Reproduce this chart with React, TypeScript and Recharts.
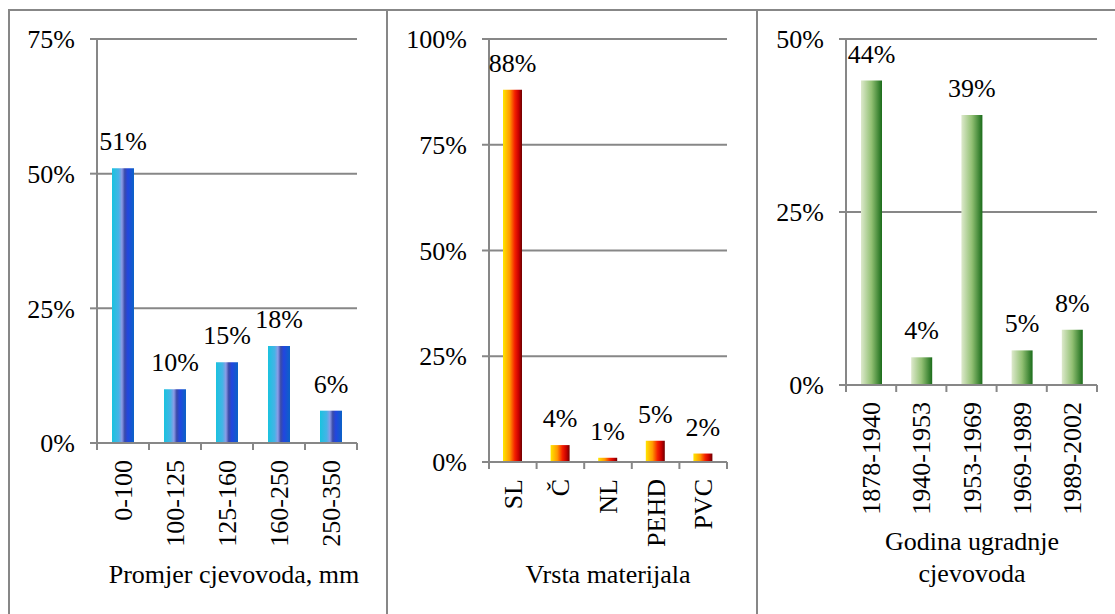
import React from "react";
import { Bar, BarChart, CartesianGrid, LabelList, XAxis, YAxis } from "recharts";

const diameterCats = ["0-100", "100-125", "125-160", "160-250", "250-350"];
const diameterShare = [51, 10, 15, 18, 6];
const diameterTicks = [0, 25, 50, 75];

const materialCats = ["SL", "Č", "NL", "PEHD", "PVC"];
const materialShare = [88, 4, 1, 5, 2];
const materialTicks = [0, 25, 50, 75, 100];

const yearCats = ["1878-1940", "1940-1953", "1953-1969", "1969-1989", "1989-2002"];
const yearShare = [44, 4, 39, 5, 8];
const yearTicks = [0, 25, 50];

const FONT = "Liberation Serif, Tinos, Times New Roman, Times, DejaVu Serif, serif";
const GRAY = "#878787";
const TICK = 7;
const TICK_GAP = 10;

const toRows = (cats: string[], vals: number[]) => cats.map((name, i) => ({ name, value: vals[i] }));
const pct = (v: number) => `${v}%`;

function CatTick(props: any) {
  const { x, y, payload, index, visibleTicksCount } = props;
  const half = payload?.offset ?? 0;
  const axisY = y - TICK - TICK_GAP;
  const last = index === visibleTicksCount - 1;
  return (
    <g>
      <line x1={x - half} x2={x - half} y1={axisY} y2={axisY + TICK} stroke={GRAY} strokeWidth={2} />
      {last && <line x1={x + half} x2={x + half} y1={axisY} y2={axisY + TICK} stroke={GRAY} strokeWidth={2} />}
      <text
        x={x}
        y={y}
        transform={`rotate(-90, ${x}, ${y})`}
        textAnchor="end"
        dy="0.35em"
        fill="#000"
        style={{ fontFamily: FONT, fontSize: 26 }}
      >
        {payload.value}
      </text>
    </g>
  );
}

type PanelProps = {
  left: number;
  width: number;
  height: number;
  yWidth: number;
  xHeight: number;
  ticks: number[];
  rows: { name: string; value: number }[];
  barSize: number;
  gradId: string;
  stops: [number, string][];
};

function Panel({ left, width, height, yWidth, xHeight, ticks, rows, barSize, gradId, stops }: PanelProps) {
  return (
    <div style={{ position: "absolute", left, top: 10 }}>
      <BarChart
        width={width}
        height={height}
        data={rows}
        margin={{ top: 29, right: 5, bottom: 0, left: 0 }}
        style={{ fontFamily: FONT }}
      >
        <defs>
          <linearGradient id={gradId} x1="0" y1="0" x2="1" y2="0">
            {stops.map(([o, c]) => (
              <stop key={o} offset={o} stopColor={c} />
            ))}
          </linearGradient>
        </defs>
        <CartesianGrid vertical={false} stroke={GRAY} strokeWidth={2} />
        <XAxis
          dataKey="name"
          height={xHeight}
          axisLine={{ stroke: GRAY, strokeWidth: 2 }}
          tickLine={false}
          tickSize={TICK}
          tickMargin={TICK_GAP}
          interval={0}
          tick={<CatTick />}
        />
        <YAxis
          width={yWidth}
          domain={[0, ticks[ticks.length - 1]]}
          ticks={ticks}
          tickFormatter={pct}
          axisLine={{ stroke: GRAY, strokeWidth: 2 }}
          tickLine={{ stroke: GRAY, strokeWidth: 2 }}
          tickSize={TICK}
          tickMargin={15}
          tick={{ fontSize: 26, fill: "#000", style: { fontFamily: FONT } }}
        />
        <Bar dataKey="value" fill={`url(#${gradId})`} barSize={barSize} isAnimationActive={false}>
          <LabelList
            dataKey="value"
            position="top"
            offset={18}
            formatter={pct}
            fill="#000"
            fontSize={26}
            style={{ fontFamily: FONT }}
          />
        </Bar>
      </BarChart>
    </div>
  );
}

const titleStyle = (cx: number, top: number): React.CSSProperties => ({
  position: "absolute",
  left: cx - 180,
  width: 360,
  top,
  textAlign: "center",
  fontSize: 26,
  lineHeight: "32px",
  color: "#000",
  fontFamily: FONT,
});

export default function App() {
  return (
    <div
      style={{
        position: "absolute",
        left: 0,
        top: 0,
        width: 1115,
        height: 614,
        background: "#fff",
        overflow: "hidden",
        fontFamily: FONT,
      }}
    >
      <div style={{ position: "absolute", left: 8, top: 9, width: 1107, height: 2, background: GRAY }} />
      <div style={{ position: "absolute", left: 8, top: 9, width: 2, height: 605, background: GRAY }} />
      <div style={{ position: "absolute", left: 386, top: 9, width: 2, height: 605, background: GRAY }} />
      <div style={{ position: "absolute", left: 756, top: 9, width: 2, height: 605, background: GRAY }} />

      <Panel
        left={10}
        width={352}
        height={583}
        yWidth={87}
        xHeight={150}
        ticks={diameterTicks}
        rows={toRows(diameterCats, diameterShare)}
        barSize={22}
        gradId="gradBlue"
        stops={[
          [0, "#19c3df"],
          [0.3, "#46b4e6"],
          [0.45, "#8c9be6"],
          [0.58, "#3a4aa8"],
          [0.72, "#2246e0"],
          [1, "#0b62c6"],
        ]}
      />
      <Panel
        left={390}
        width={342}
        height={562}
        yWidth={99}
        xHeight={110}
        ticks={materialTicks}
        rows={toRows(materialCats, materialShare)}
        barSize={19}
        gradId="gradRed"
        stops={[
          [0, "#ffe600"],
          [0.35, "#ff9a00"],
          [0.62, "#f52000"],
          [0.82, "#c80000"],
          [1, "#6e0000"],
        ]}
      />
      <Panel
        left={759}
        width={343}
        height={545}
        yWidth={87}
        xHeight={170}
        ticks={yearTicks}
        rows={toRows(yearCats, yearShare)}
        barSize={21}
        gradId="gradGreen"
        stops={[
          [0, "#dde9cc"],
          [0.5, "#92c073"],
          [1, "#1a6c1a"],
        ]}
      />

      <div style={titleStyle(234, 559)}>Promjer cjevovoda, mm</div>
      <div style={titleStyle(608, 559)}>Vrsta materijala</div>
      <div style={titleStyle(972, 526)}>
        Godina ugradnje
        <br />
        cjevovoda
      </div>
    </div>
  );
}
